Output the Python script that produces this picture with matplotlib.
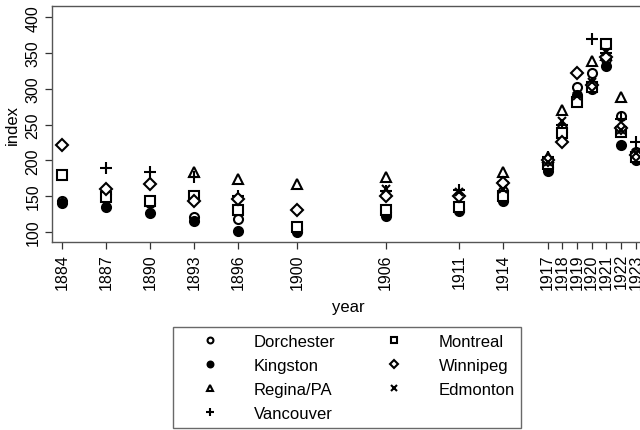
import matplotlib
matplotlib.use("Agg")
import matplotlib.pyplot as plt
import numpy as np

plt.rcParams['font.family'] = ['Liberation Sans', 'DejaVu Sans']

years = [1884, 1887, 1890, 1893, 1896, 1900, 1906, 1911, 1914,
         1917, 1918, 1919, 1920, 1921, 1922, 1923]
nan = np.nan

# index values per city, one entry per year (nan = no observation)
dorchester = [143, 153, 140, 120, 118, 104, 128, 132, 157, 190, 245, 302, 322, 342, 262, 212]
kingston   = [140, 135, 126, 115, 101, 100, 122, 129, 143, 185, 240, 292, 300, 332, 222, 200]
regina     = [nan, nan, nan, 183, 174, 167, 176, nan, 184, 205, 270, nan, 339, 348, 288, nan]
vancouver  = [179, 189, 184, 177, 150, 130, 157, 158, 170, 205, 250, nan, 369, 350, 258, 225]
montreal   = [179, 149, 143, 150, 130, 107, 130, 134, 150, 195, 238, 282, 303, 362, 240, 205]
winnipeg   = [222, 160, 167, 143, 146, 131, 150, 150, 168, 200, 225, 322, 305, 345, 245, 208]
edmonton   = [nan, nan, nan, nan, nan, nan, 160, 155, 160, 198, 255, 290, 310, 352, 243, 210]

series = [
    ("Dorchester", dorchester, dict(marker="o", mfc="white")),
    ("Kingston", kingston, dict(marker="o", mfc="black")),
    ("Regina/PA", regina, dict(marker="^", mfc="white")),
    ("Vancouver", vancouver, dict(marker="+", mfc="none")),
    ("Montreal", montreal, dict(marker="s", mfc="white")),
    ("Winnipeg", winnipeg, dict(marker="D", mfc="white")),
    ("Edmonton", edmonton, dict(marker="x", mfc="none")),
]

fig = plt.figure(figsize=(6.4, 4.31), dpi=100)
ax = fig.add_axes([0.081, 0.436, 0.927, 0.547])

sizes = {"o": 6.5, "^": 7, "+": 9, "s": 6.5, "D": 6.5, "x": 6}
for name, vals, st in series:
    ax.plot(years, vals, linestyle="none", color="black", mec="black",
            ms=sizes[st["marker"]], mew=1.5, label=name, **st)

ax.set_xlim(1883.32, 1923.63)
ax.set_ylim(85.6, 415.4)
ax.set_xticks(years)
ax.set_xticklabels([str(y) for y in years], rotation=90, fontsize=11.5)
ax.set_yticks(range(100, 401, 50))
ax.set_yticklabels([str(v) for v in range(100, 401, 50)], rotation=90,
                   va="center", fontsize=11.5)
ax.tick_params(length=5, width=0.9, color="#333333", pad=3)
for s in ax.spines.values():
    s.set_color("#555555")
    s.set_linewidth(1.0)
ax.set_xlabel("year", fontsize=12, labelpad=7)
ax.set_ylabel("index", fontsize=12, labelpad=4)

leg = fig.legend(loc="upper left", bbox_to_anchor=(173 / 640, 1 - 328 / 431),
                 ncol=2, fontsize=12, frameon=True, fancybox=False,
                 edgecolor="#444444", markerscale=0.65, handlelength=3.6,
                 handletextpad=0.84, columnspacing=1.75, borderpad=0.4,
                 labelspacing=0.55, borderaxespad=0)
leg.get_frame().set_linewidth(1.0)

fig.savefig("out.png", dpi=100)
